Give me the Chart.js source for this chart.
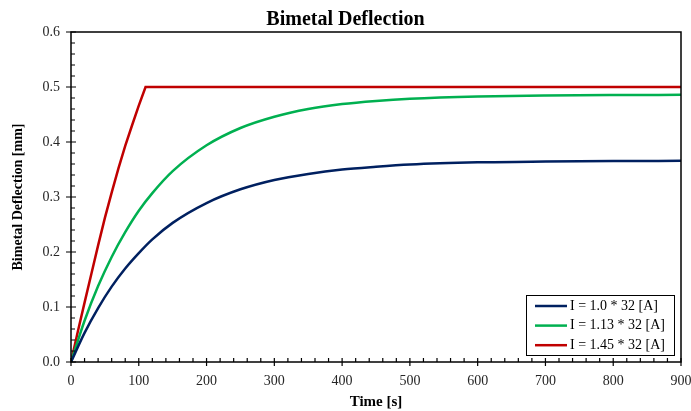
<!DOCTYPE html>
<html>
<head>
<meta charset="utf-8">
<script src="https://cdn.jsdelivr.net/npm/chart.js@4/dist/chart.umd.min.js"></script>
<style>
  html, body { margin: 0; padding: 0; background: #fff; }
  #wrap { width: 691px; height: 411px; }
</style>
</head>
<body>
<div id="wrap"><canvas id="c" width="691" height="411"></canvas></div>
<script>
// values (time in s, deflection in mm)
const times = [0, 20, 40, 60, 80, 100, 120, 150, 200, 250, 300, 350, 400, 450, 500, 600, 700, 800, 900];
const blueVals = [0, 0.053, 0.098, 0.137, 0.170, 0.198, 0.223, 0.253, 0.289, 0.314, 0.331, 0.342, 0.350, 0.355, 0.359, 0.363, 0.3645, 0.3653, 0.3657];
const greenVals = [0, 0.075, 0.138, 0.191, 0.236, 0.275, 0.307, 0.347, 0.394, 0.4255, 0.446, 0.460, 0.469, 0.4746, 0.4785, 0.4827, 0.4846, 0.4854, 0.4857];
// red one hits the 0.5 limit and stays there
const redTimes = [0, 10, 20, 30, 40, 50, 60, 70, 80, 90, 100, 110, 900];
const redVals = [0, 0.055, 0.108, 0.160, 0.212, 0.262, 0.308, 0.352, 0.393, 0.430, 0.466, 0.5, 0.5];

const labels = ['I = 1.0 * 32 [A]', 'I = 1.13 * 32 [A]', 'I = 1.45 * 32 [A]'];
const colors = ['#002060', '#00B050', '#C00000'];

const xTicks = { min: 0, max: 900, step: 100 };
const yTicks = { min: 0, max: 0.6, step: 0.1 };

const toPoints = (xs, ys) => xs.map((x, i) => ({ x: x, y: ys[i] }));

const serif = 'Liberation Serif, Times New Roman, serif';

// frame + excel-ish tick marks (major cross the axis, minor inside)
const framePlugin = {
  id: 'frame',
  afterDatasetsDraw(chart) {
    const { ctx, chartArea: a } = chart;
    const xs = chart.scales.x, ys = chart.scales.y;
    ctx.save();
    ctx.strokeStyle = '#000';
    ctx.lineWidth = 1.5;
    ctx.strokeRect(a.left, a.top, a.right - a.left, a.bottom - a.top);
    ctx.lineWidth = 1.2;
    ctx.beginPath();
    const xv = xs.ticks.map(t => t.value);
    xv.forEach((v, i) => {
      const px = xs.getPixelForValue(v);
      ctx.moveTo(px, a.bottom - 4); ctx.lineTo(px, a.bottom + 4);
      if (i < xv.length - 1) {
        for (let k = 1; k < 5; k++) {
          const m = xs.getPixelForValue(v + (xv[i + 1] - v) * k / 5);
          ctx.moveTo(m, a.bottom); ctx.lineTo(m, a.bottom - 4);
        }
      }
    });
    const yv = ys.ticks.map(t => t.value);
    yv.forEach((v, i) => {
      const py = ys.getPixelForValue(v);
      ctx.moveTo(a.left - 5, py); ctx.lineTo(a.left + 5, py);
      if (i < yv.length - 1) {
        for (let k = 1; k < 5; k++) {
          const m = ys.getPixelForValue(v + (yv[i + 1] - v) * k / 5);
          ctx.moveTo(a.left, m); ctx.lineTo(a.left + 4, m);
        }
      }
    });
    ctx.stroke();
    ctx.restore();
  },
  afterDraw(chart) {
    // boxed legend in the lower right corner
    const { ctx, chartArea: a } = chart;
    const w = 148, h = 60;
    const x0 = a.right - 7 - w, y0 = a.bottom - 7 - h;
    ctx.save();
    ctx.fillStyle = '#fff';
    ctx.fillRect(x0, y0, w, h);
    ctx.strokeStyle = '#000';
    ctx.lineWidth = 1;
    ctx.strokeRect(x0 + 0.5, y0 + 0.5, w, h);
    ctx.font = '14px ' + serif;
    ctx.textBaseline = 'middle';
    chart.data.datasets.forEach((ds, i) => {
      const cy = y0 + 11 + i * 19.6;
      ctx.strokeStyle = ds.borderColor;
      ctx.lineWidth = 2.5;
      ctx.beginPath();
      ctx.moveTo(x0 + 9, cy); ctx.lineTo(x0 + 41, cy);
      ctx.stroke();
      ctx.fillStyle = '#000';
      ctx.fillText(ds.label, x0 + 44, cy);
    });
    ctx.restore();
  }
};

new Chart(document.getElementById('c'), {
  type: 'line',
  data: {
    datasets: [
      { label: labels[0], data: toPoints(times, blueVals), borderColor: colors[0], cubicInterpolationMode: 'monotone' },
      { label: labels[1], data: toPoints(times, greenVals), borderColor: colors[1], cubicInterpolationMode: 'monotone' },
      { label: labels[2], data: toPoints(redTimes, redVals), borderColor: colors[2], tension: 0 }
    ]
  },
  options: {
    responsive: false,
    animation: false,
    devicePixelRatio: 1,
    layout: { autoPadding: false, padding: 0 },
    elements: {
      point: { radius: 0 },
      line: { borderWidth: 2.5, fill: false }
    },
    plugins: {
      legend: { display: false },
      tooltip: { enabled: false },
      title: {
        display: true,
        text: 'Bimetal Deflection',
        color: '#000',
        font: { family: serif, size: 20, weight: 'bold' },
        padding: { top: 8, bottom: 0 }
      }
    },
    scales: {
      x: {
        type: 'linear',
        min: xTicks.min, max: xTicks.max,
        grid: { display: false, drawTicks: false },
        border: { display: false },
        ticks: { stepSize: xTicks.step, color: '#262626', padding: 11, maxRotation: 0,
                 font: { family: serif, size: 14 } },
        title: { display: true, text: 'Time [s]', color: '#000',
                 font: { family: serif, size: 15, weight: 'bold' }, padding: { top: 0, bottom: 0 } },
        afterFit(s) { s.height = 49; s.paddingLeft = 0; s.paddingRight = 10; }
      },
      y: {
        min: yTicks.min, max: yTicks.max,
        grid: { display: false, drawTicks: false },
        border: { display: false },
        ticks: { stepSize: yTicks.step, color: '#262626', padding: 11,
                 font: { family: serif, size: 14 },
                 callback: v => v.toFixed(1) },
        title: { display: true, text: 'Bimetal Deflection [mm]', color: '#000',
                 font: { family: serif, size: 14, weight: 'bold' }, padding: { top: 10, bottom: 0 } },
        afterFit(s) { s.width = 71; s.paddingTop = 0; s.paddingBottom = 0; }
      }
    }
  },
  plugins: [framePlugin]
});
</script>
</body>
</html>
